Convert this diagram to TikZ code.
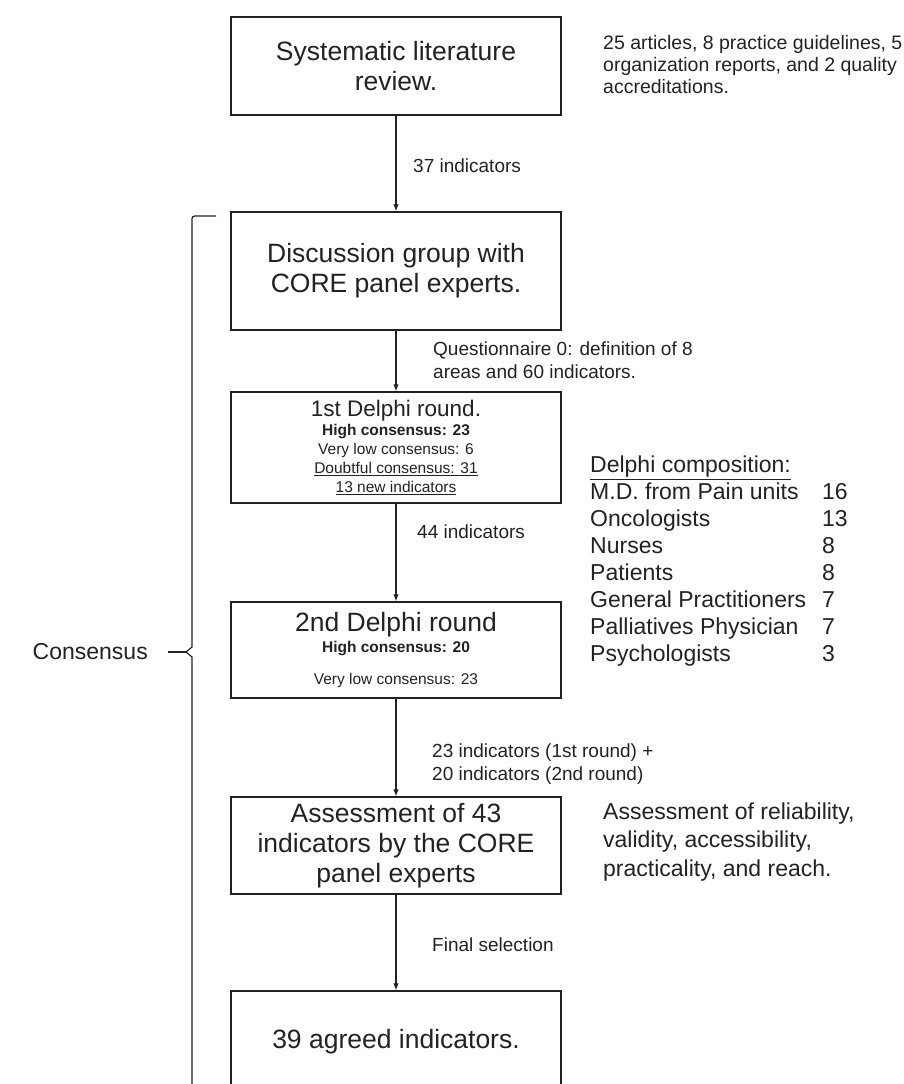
\documentclass[tikz,border=0pt]{standalone}
\usepackage{fontspec}
\setmainfont{Liberation Sans}
\usetikzlibrary{arrows.meta}
\definecolor{ink}{HTML}{222222}
\newcommand{\titlesize}{\fontsize{26.5}{30}\selectfont}
\newcommand{\notesize}{\fontsize{19}{22.5}\selectfont}
\newcommand{\sidesize}{\fontsize{23}{27}\selectfont}
\tikzset{
    stepbox/.style={draw=ink, line width=1.3pt, minimum width=330pt, inner sep=0pt, align=center, text=ink, font=\titlesize},
    note/.style={anchor=west, inner sep=0pt, align=left, text=ink, font=\notesize},
    flow/.style={draw=ink, line width=1.2pt, -{Latex[length=7pt,width=5.5pt]}}
}
\begin{document}
\begin{tikzpicture}[x=1pt,y=-1pt]
                \useasboundingbox (0,0) rectangle (904,1084);
                \node [stepbox, minimum height=98pt] (review) at (396,66) {Systematic literature\\review.};
                \node [stepbox, minimum height=118pt] (discussion) at (396,271) {Discussion group with\\CORE panel experts.};
                \node [stepbox, minimum height=111pt, font=\fontsize{15.5}{19}\selectfont] (roundone) at (396,447.5) {{\fontsize{22.5}{26}\selectfont 1st Delphi round.}\\{\bfseries High consensus: 23}\\Very low consensus: 6\\\underline{Doubtful consensus: 31}\\\underline{13 new indicators}};
                \node [stepbox, minimum height=96pt, font=\fontsize{15.5}{21.5}\selectfont] (roundtwo) at (396,650) {{\titlesize 2nd Delphi round}\\{\bfseries High consensus: 20}\\[10.5pt]Very low consensus: 23};
                \node [stepbox, minimum height=97pt] (assessment) at (396,845.5) {Assessment of 43\\indicators by the CORE\\panel experts};
                \node [stepbox, minimum height=102pt] (agreed) at (396,1042) {39 agreed indicators.};
                \draw [flow] (review) -- (discussion);
                \draw [flow] (discussion) -- (roundone);
                \draw [flow] (roundone) -- (roundtwo);
                \draw [flow] (roundtwo) -- (assessment);
                \draw [flow] (assessment) -- (agreed);
                \node [note] (reviewcount) at (413,166) {37 indicators};
                \node [note] (questionnaire) at (433,360) {Questionnaire 0: definition of 8\\areas and 60 indicators.};
                \node [note] (roundonecount) at (417,532) {44 indicators};
                \node [note] (roundtwocount) at (432,764) {23 indicators (1st round) +\\20 indicators (2nd round)};
                \node [note] (selection) at (432,945) {Final selection};
                \node [note, font=\fontsize{19.5}{22}\selectfont] (sources) at (603,65) {25 articles, 8 practice guidelines, 5\\organization reports, and 2 quality\\accreditations.};
                \node [anchor=west, inner sep=0pt, text=ink, font=\sidesize] (panel) at (590,562) {\begin{tabular}{@{}p{232pt}@{}l@{}}
                    \multicolumn{2}{@{}l@{}}{\underline{Delphi composition:}}\\
                    M.D. from Pain units & 16\\
                    Oncologists & 13\\
                    Nurses & 8\\
                    Patients & 8\\
                    General Practitioners & 7\\
                    Palliatives Physician & 7\\
                    Psychologists & 3
                \end{tabular}};
                \node [note, font=\fontsize{23}{28.5}\selectfont] (criteria) at (603,842) {Assessment of reliability,\\validity, accessibility,\\practicality, and reach.};
                \node [anchor=east, inner sep=0pt, text=ink, font=\sidesize] (consensus) at (148,652) {Consensus};
                \draw [draw=ink, line width=1.2pt] (216,216) -- (198,216) .. controls (192,216) .. (192,222) -- (192,647) -- (186,652) -- (192,657) -- (192,1100);
                \draw [draw=ink, line width=1.2pt] (186,652) -- (168,652);
            \end{tikzpicture}
\end{document}
